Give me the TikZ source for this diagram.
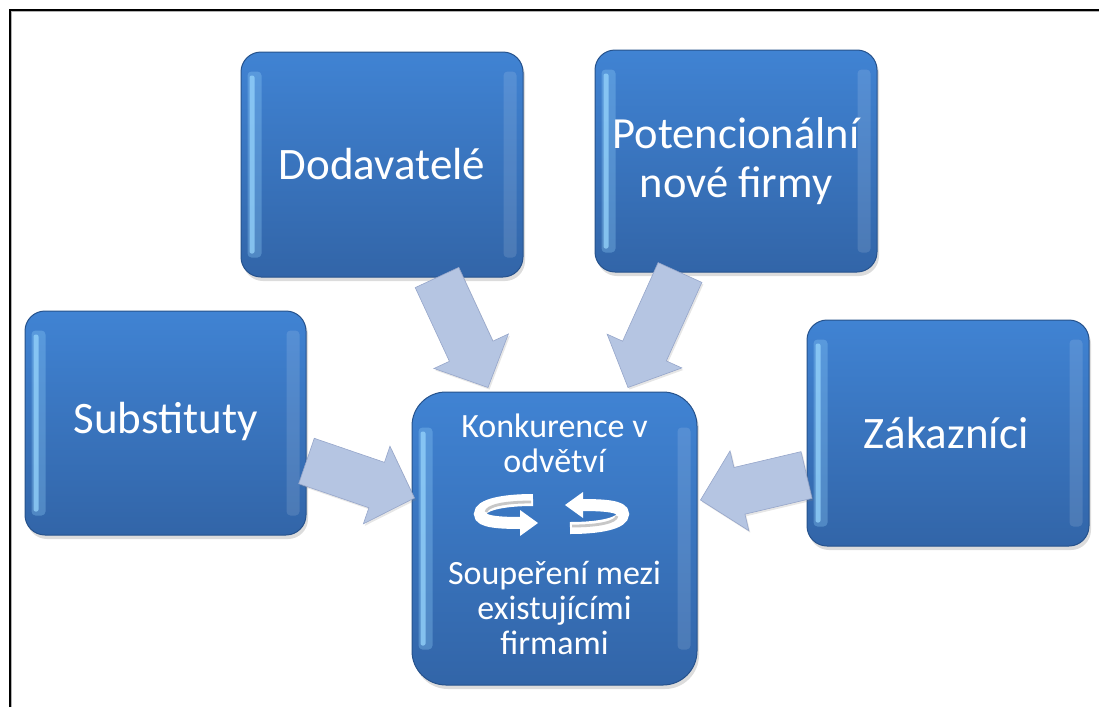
\documentclass[tikz,border=0pt]{standalone}
\usepackage{fontspec}
\setmainfont{Carlito}
\usetikzlibrary{calc,shadows}
\definecolor{boxtop}{RGB}{64,131,211}
\definecolor{boxbot}{RGB}{50,101,168}
\definecolor{boxrim}{RGB}{38,82,140}
\definecolor{bevlight}{RGB}{150,212,252}
\definecolor{arrfill}{RGB}{181,197,226}
\definecolor{arrline}{RGB}{150,166,202}
\tikzset{
  box/.style={rounded corners=20pt, draw=boxrim, line width=1pt,
    top color=boxtop, bottom color=boxbot, inner sep=0pt,
    drop shadow={opacity=0.28, shadow xshift=2pt, shadow yshift=-4pt}},
  bigbox/.style={box, rounded corners=34pt},
  bigtext/.style={text=white, align=center, inner sep=0pt,
    font=\fontsize{45}{52}\selectfont},
  twotext/.style={text=white, align=center, inner sep=0pt,
    font=\fontsize{44.5}{49}\selectfont},
  midtext/.style={text=white, align=center, inner sep=0pt,
    font=\fontsize{34}{35}\selectfont},
  blk/.style={fill=arrfill, draw=arrline, line width=0.6pt,
    drop shadow={opacity=0.2, shadow xshift=1.5pt, shadow yshift=-2pt}},
  ring/.style={white, line width=12pt},
  ringgrey/.style={black!22, line width=2.8pt},
}
\newcommand{\blkarrow}[2]{%
  \coordinate (#1h) at ($(#2)!40pt!(#1)$);
  \filldraw[blk] ($(#1)!24pt!90:(#2)$) -- ($(#1h)!24pt!90:(#2)$)
    -- ($(#1h)!41pt!90:(#2)$) -- (#2) -- ($(#1h)!41pt!-90:(#2)$)
    -- ($(#1h)!24pt!-90:(#2)$) -- ($(#1)!24pt!-90:(#2)$) -- cycle;
}
\newcommand{\bevelstrips}[2]{%
  \fill[bevlight, opacity=0.3, rounded corners=4pt]
    ($(#1.north west)+(7,#2)$) rectangle ($(#1.south west)+(21,-#2)$);
  \fill[bevlight, opacity=0.75, rounded corners=2pt]
    ($(#1.north west)+(9,#2+4)$) rectangle ($(#1.south west)+(14,-#2-4)$);
  \fill[white, opacity=0.12, rounded corners=4pt]
    ($(#1.north east)+(-20,#2)$) rectangle ($(#1.south east)+(-7,-#2)$);
}
\newcommand{\ringicon}{%
  \draw[ring] (26,-14) .. controls (-5,-14) and (-27,-9) .. (-27,0)
    .. controls (-27,8) and (-8,9) .. (16,9);
  \fill[white] (13,-4) -- (31,9) -- (13,22) -- cycle;
  \draw[ringgrey] (24,-12) .. controls (-4,-12) and (-20,-8) .. (-21,-2);
}
\begin{document}
\begin{tikzpicture}[x=1pt,y=-1pt]
\useasboundingbox (0,0) rectangle (1099,707);
\draw[black!30, line width=1pt] (11.5,707) -- (11.5,11.5) -- (1099,11.5);
\draw[line width=2pt] (9.5,707) -- (9.5,9.5) -- (1099,9.5);

% boxes
\node[box, minimum width=282pt, minimum height=225pt] (dod) at (382,164.5) {};
\node[box, minimum width=282pt, minimum height=222pt] (pot) at (736,161) {};
\node[box, minimum width=281pt, minimum height=224pt] (sub) at (165.5,423) {};
\node[box, minimum width=282pt, minimum height=226pt] (zak) at (948,433) {};
\node[bigbox, minimum width=285pt, minimum height=293pt] (cen) at (554.5,538.5) {};

\bevelstrips{dod}{20}
\bevelstrips{pot}{20}
\bevelstrips{sub}{20}
\bevelstrips{zak}{20}
\bevelstrips{cen}{36}

% texts
\node[bigtext] (tdod) at (dod.center) {Dodavatelé};
\node[twotext] (tpot) at ($(pot.center)+(0,0)$) {Potencionální\\nové firmy};
\node[bigtext] (tsub) at ($(sub.center)+(0,-2)$) {Substituty};
\node[bigtext] (tzak) at ($(zak.center)+(-2,0)$) {Zákazníci};
\node[midtext] (tk) at ($(cen.north)+(0,52)$) {Konkurence v\\odvětví};
\node[midtext] (ts) at ($(cen.north)+(0,216)$) {Soupeření mezi\\existujícími\\firmami};

% rotation icons
\begin{scope}[shift={(507,514)}]
  \ringicon
\end{scope}
\begin{scope}[shift={(596,514)}, rotate=180]
  \ringicon
\end{scope}

% block arrows
\coordinate (dS) at ($(dod.south)+(55,0)$);
\coordinate (dT) at ($(cen.north)+(-66.5,-4)$);
\coordinate (pS) at ($(pot.south)+(-56,0)$);
\coordinate (pT) at ($(cen.north)+(73.5,-4)$);
\coordinate (sS) at ($(sub.east)+(0,38)$);
\coordinate (sT) at ($(cen.west)+(3,-40.5)$);
\coordinate (zS) at ($(zak.west)+(0,42)$);
\coordinate (zT) at ($(cen.east)+(3,-38.5)$);
\blkarrow{dS}{dT}
\blkarrow{pS}{pT}
\blkarrow{sS}{sT}
\blkarrow{zS}{zT}
\end{tikzpicture}
\end{document}
